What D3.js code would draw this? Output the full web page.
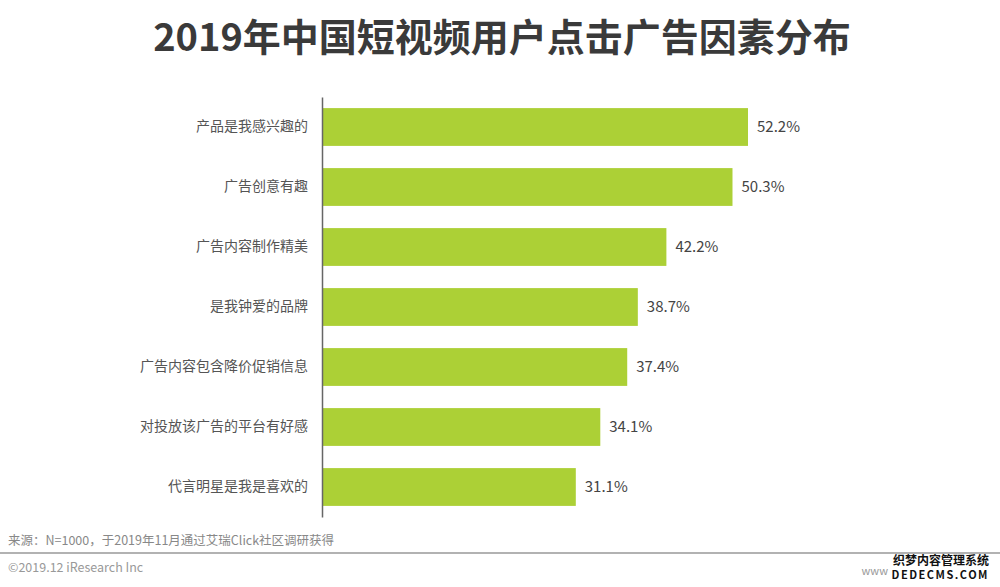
<!DOCTYPE html>
<html><head><meta charset="utf-8">
<script src="https://cdn.jsdelivr.net/npm/d3@7"></script>
<style>body{margin:0;background:#fff;}svg{display:block;}</style>
</head><body>
<svg id="c" width="1000" height="587"></svg>
<script>
const categories = ["产品是我感兴趣的","广告创意有趣","广告内容制作精美","是我钟爱的品牌","广告内容包含降价促销信息","对投放该广告的平台有好感","代言明星是我是喜欢的"];
const values = [52.2, 50.3, 42.2, 38.7, 37.4, 34.1, 31.1];
const titleText = "2019年中国短视频用户点击广告因素分布";
const sourceText = "来源：N=1000，于2019年11月通过艾瑞Click社区调研获得";
const copyrightText = "©2019.12 iResearch Inc";

const svg = d3.select("#c");
const font = "'Noto Sans CJK SC','Noto Sans',sans-serif";
const x0 = 322;
const x = d3.scaleLinear().domain([0, 52.2]).range([x0, 748]);
const y = d3.scaleBand().domain(categories).range([97, 517]).paddingInner(0.37).paddingOuter(0.185);

svg.append("text").attr("x", 502).attr("y", 51).attr("text-anchor", "middle")
  .attr("font-family", font).attr("font-weight", "bold").attr("font-size", 38)
  .attr("fill", "#3a3a3a").text(titleText);

svg.selectAll("rect.bar").data(values).enter().append("rect").attr("class","bar")
  .attr("x", x0).attr("y", (d,i)=>y(categories[i]))
  .attr("width", d=>x(d)-x0).attr("height", y.bandwidth())
  .attr("fill", "#acd036");

svg.selectAll("text.val").data(values).enter().append("text").attr("class","val")
  .attr("x", d=>x(d)+9).attr("y", (d,i)=>y(categories[i])+y.bandwidth()/2)
  .attr("dy", "0.35em").attr("font-family", font).attr("font-size", 15)
  .attr("fill", "#444").text(d=>d.toFixed(1)+"%");

const axis = d3.axisLeft(y).tickSize(0).tickPadding(14);
const g = svg.append("g").attr("transform", `translate(${x0},0)`).call(axis);
g.select(".domain").attr("stroke", "#666").attr("stroke-width", 1.5);
g.selectAll("text").attr("font-family", font).attr("font-size", 14).attr("fill", "#555");

svg.append("text").attr("x", 8).attr("y", 545).attr("font-family", font)
  .attr("font-size", 12.5).attr("fill", "#888").text(sourceText);
svg.append("line").attr("x1", 0).attr("x2", 1000).attr("y1", 553).attr("y2", 553)
  .attr("stroke", "#999").attr("stroke-width", 1.5);
svg.append("text").attr("x", 8).attr("y", 572).attr("font-family", font)
  .attr("font-size", 12.5).attr("fill", "#999").text(copyrightText);

svg.append("text").attr("x", 989).attr("y", 565).attr("text-anchor","end").attr("font-family", font)
  .attr("font-size", 12).attr("font-weight","bold").attr("fill", "#111").text("织梦内容管理系统");
svg.append("text").attr("x", 989).attr("y", 579).attr("text-anchor","end").attr("font-family", font)
  .attr("font-size", 11).attr("font-weight","bold").attr("fill", "#111").attr("letter-spacing", 1.5).text("DEDECMS.COM");
svg.append("text").attr("x", 888).attr("y", 575).attr("text-anchor","end").attr("font-family", font)
  .attr("font-size", 11).attr("fill", "#999").text("www");
</script>
</body></html>
